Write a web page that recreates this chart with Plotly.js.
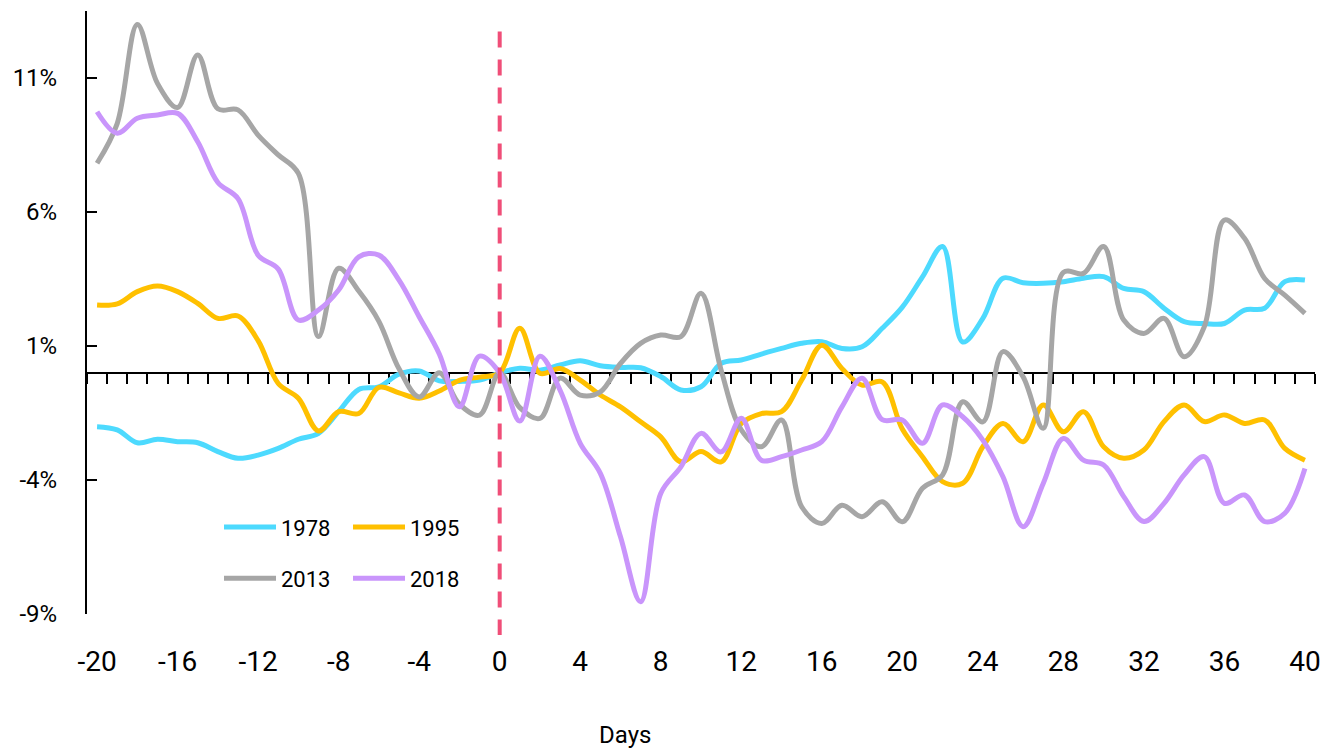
<!DOCTYPE html>
<html>
<head>
<meta charset="utf-8">
<script src="https://cdn.plot.ly/plotly-3.0.1.min.js"></script>
<style>
html,body{margin:0;padding:0;background:#ffffff;}
#chart{width:1340px;height:751px;}
</style>
</head>
<body>
<div id="chart"></div>
<script>
// ---- data ----
const days = [-20,-19,-18,-17,-16,-15,-14,-13,-12,-11,-10,-9,-8,-7,-6,-5,-4,-3,-2,-1,
  0,1,2,3,4,5,6,7,8,9,10,11,12,13,14,15,16,17,18,19,20,21,22,23,24,25,26,27,28,29,30,
  31,32,33,34,35,36,37,38,39,40];

const s1978 = [-2.01,-2.13,-2.61,-2.48,-2.57,-2.61,-2.94,-3.19,-3.07,-2.82,-2.48,-2.26,-1.45,-0.62,-0.52,-0.05,0.07,-0.3,-0.32,-0.27,
  0,0.17,0.1,0.29,0.45,0.26,0.2,0.19,-0.14,-0.64,-0.52,0.35,0.48,0.7,0.91,1.1,1.16,0.91,0.97,1.66,2.45,
  3.58,4.71,1.15,2.03,3.53,3.36,3.34,3.4,3.53,3.59,3.15,3.03,2.41,1.91,1.84,1.84,2.34,2.41,3.4,3.46];

const s1995 = [2.53,2.57,3.03,3.24,3.03,2.59,2.03,2.12,1.2,-0.4,-0.95,-2.17,-1.45,-1.52,-0.54,-0.75,-0.95,-0.68,-0.28,-0.16,
  0,1.66,-0.02,0.16,-0.27,-0.83,-1.27,-1.83,-2.39,-3.32,-2.94,-3.32,-1.89,-1.52,-1.45,-0.27,1.03,0.16,-0.46,-0.34,-2.1,
  -3.13,-4.06,-4.12,-2.76,-1.89,-2.57,-1.2,-2.2,-1.45,-2.76,-3.19,-2.88,-1.82,-1.2,-1.82,-1.57,-1.89,-1.76,-2.82,-3.26];

const s2013 = [7.82,9.3,13.0,10.8,9.9,11.86,9.85,9.81,8.87,8.13,7.44,1.35,3.9,3.05,1.92,0.15,-0.9,0,-1.17,-1.58,
  0,-1.3,-1.7,-0.2,-0.83,-0.71,0.35,1.1,1.41,1.35,2.97,0.1,-2.13,-2.76,-1.76,-5.0,-5.62,-4.94,-5.37,-4.81,-5.56,
  -4.31,-3.81,-1.08,-1.83,0.79,-0.15,-2.07,3.75,3.71,4.71,1.97,1.47,2.03,0.6,1.72,5.7,5.02,3.52,2.9,2.22];

const s2018 = [9.74,8.94,9.5,9.62,9.68,8.62,7.1,6.5,4.39,3.87,1.97,2.34,3.09,4.33,4.39,3.46,2.09,0.7,-1.27,0.62,
  0,-1.8,0.62,-0.65,-2.63,-3.75,-6.12,-8.54,-4.5,-3.51,-2.26,-2.95,-1.7,-3.26,-3.13,-2.88,-2.57,-1.27,-0.2,-1.75,-1.76,
  -2.63,-1.2,-1.64,-2.51,-3.88,-5.74,-4.13,-2.45,-3.26,-3.44,-4.62,-5.55,-4.87,-3.81,-3.13,-4.87,-4.56,-5.55,-5.24,-3.57];

const seriesNames = ['1978','1995','2013','2018'];
const seriesColors = ['#4DDAFE','#FFC000','#A6A6A6','#C995FB'];

const xTickVals = [-20,-16,-12,-8,-4,0,4,8,12,16,20,24,28,32,36,40];
const xTickText = ['-20','-16','-12','-8','-4','0','4','8','12','16','20','24','28','32','36','40'];
const yTickVals = [-9,-4,1,6,11];
const yTickText = ['-9%','-4%','1%','6%','11%'];
const eventDay = 0;
const xAxisTitle = 'Days';

// ---- chart ----
const FONT = 'Roboto, "Open Sans", sans-serif';
const yRange = [-9, 13.5];
const xRange = [-20.5, 40.5];
const zeroPos = (0 - yRange[0]) / (yRange[1] - yRange[0]);

const values = [s1978, s1995, s2013, s2018];
const traces = values.map((v, i) => ({
  type: 'scatter',
  mode: 'lines',
  x: days,
  y: v,
  name: seriesNames[i],
  xaxis: i < 2 ? 'x' : 'x2',
  yaxis: 'y',
  legend: i < 2 ? 'legend' : 'legend2',
  line: {color: seriesColors[i], width: 5, shape: 'spline', smoothing: 1},
  hoverinfo: 'x+y+name'
}));

const legendCommon = {
  orientation: 'h',
  xanchor: 'left',
  yanchor: 'middle',
  x: 0.1075,
  font: {family: FONT, size: 22, color: '#000'},
  bgcolor: 'rgba(0,0,0,0)',
  borderwidth: 0,
  itemwidth: 52,
  entrywidth: 62,
  traceorder: 'normal'
};

const layout = {
  width: 1340,
  height: 751,
  margin: {l: 87, r: 25, t: 11, b: 137, pad: 0},
  paper_bgcolor: '#ffffff',
  plot_bgcolor: '#ffffff',
  font: {family: FONT, color: '#000'},
  showlegend: true,
  xaxis: {
    range: xRange,
    tickmode: 'array',
    tickvals: xTickVals,
    ticktext: xTickText,
    ticks: '',
    showline: false,
    showgrid: false,
    zeroline: false,
    tickfont: {family: FONT, size: 28, color: '#000'},
    ticklabelstandoff: 28,
    fixedrange: true
  },
  xaxis2: {
    overlaying: 'x',
    anchor: 'free',
    position: zeroPos,
    side: 'bottom',
    range: xRange,
    tickmode: 'linear',
    tick0: -20.5,
    dtick: 1,
    ticks: 'outside',
    ticklen: 10,
    tickwidth: 2,
    tickcolor: '#000',
    showline: true,
    linecolor: '#000',
    linewidth: 2,
    showticklabels: false,
    showgrid: false,
    zeroline: false,
    layer: 'below traces',
    fixedrange: true
  },
  yaxis: {
    range: yRange,
    tickmode: 'array',
    tickvals: yTickVals,
    ticktext: yTickText,
    ticks: 'inside',
    ticklen: 10,
    tickwidth: 2,
    tickcolor: '#000',
    showline: true,
    linecolor: '#000',
    linewidth: 2,
    showgrid: false,
    zeroline: false,
    tickfont: {family: FONT, size: 24, color: '#000'},
    ticklabelstandoff: 23,
    layer: 'below traces',
    fixedrange: true
  },
  legend: Object.assign({}, legendCommon, {y: 0.144}),
  legend2: Object.assign({}, legendCommon, {y: 0.059}),
  shapes: [{
    type: 'line',
    xref: 'x',
    yref: 'paper',
    x0: eventDay, x1: eventDay,
    y0: 0.966, y1: -0.035,
    line: {color: '#F04E78', width: 4, dash: '16px,12px'}
  }],
  annotations: [{
    text: xAxisTitle,
    xref: 'paper', yref: 'paper',
    x: 0.438, y: -0.2,
    xanchor: 'center', yanchor: 'middle',
    showarrow: false,
    font: {family: FONT, size: 24, color: '#000'}
  }]
};

Plotly.newPlot('chart', traces, layout, {displayModeBar: false, staticPlot: true});
</script>
</body>
</html>
